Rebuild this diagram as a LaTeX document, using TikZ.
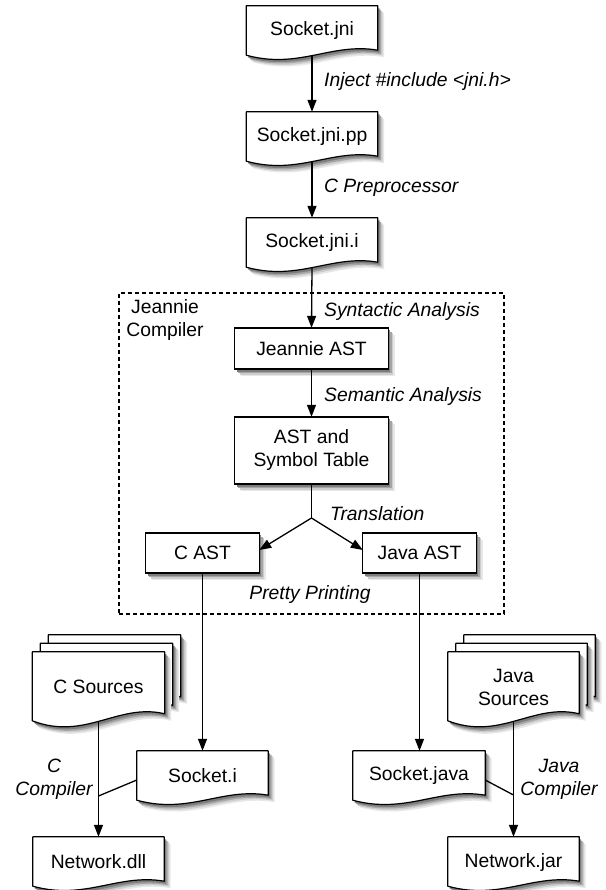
\documentclass[tikz,border=0pt]{standalone}
\usepackage{fontspec}
\setmainfont{Liberation Sans}
\usetikzlibrary{arrows.meta,calc}
\definecolor{shA}{RGB}{232,232,232}
\definecolor{shB}{RGB}{205,205,205}
\definecolor{shC}{RGB}{165,165,165}
\definecolor{shD}{RGB}{125,125,125}

% #1 node, #2 height, #3 #4 offset (picture units, y down)
\newcommand\docpath[4]{($(#1.north west)+(#3,#4)$) -- ($(#1.north east)+(#3,#4)$) -- ($(#1.south east)+(#3,{#4-0.12*#2})$) .. controls ($(#1.south east)!0.35!(#1.south west)+(#3,{#4-0.28*#2})$) and ($(#1.south west)!0.4!(#1.south east)+(#3,{#4+0.27*#2})$) .. ($(#1.south west)+(#3,{#4-0.02*#2})$) -- cycle}

\newcommand\docshape[4]{%
  \path[fill=shA] \docpath{#1}{#2}{#3+6.5}{#4+7};
  \path[fill=shB] \docpath{#1}{#2}{#3+5}{#4+5.5};
  \path[fill=shC] \docpath{#1}{#2}{#3+3.5}{#4+4};
  \path[fill=shD] \docpath{#1}{#2}{#3+2}{#4+2.5};
  \path[fill=white, draw=black, line width=1.2pt, line join=round] \docpath{#1}{#2}{#3}{#4};}

\newcommand\procshape[1]{%
  \path[fill=shA] ($(#1.north west)+(6.5,7)$) rectangle ($(#1.south east)+(6.5,7)$);
  \path[fill=shB] ($(#1.north west)+(5,5.5)$) rectangle ($(#1.south east)+(5,5.5)$);
  \path[fill=shC] ($(#1.north west)+(3.5,4)$) rectangle ($(#1.south east)+(3.5,4)$);
  \path[fill=shD] ($(#1.north west)+(2,2.5)$) rectangle ($(#1.south east)+(2,2.5)$);
  \path[fill=white, draw=black, line width=1pt] (#1.north west) rectangle (#1.south east);
  \draw[line width=2pt] (#1.north west) -- (#1.north east);
  \draw[line width=2pt] (#1.south west) -- (#1.south east);}

\begin{document}
\begin{tikzpicture}[x=1pt,y=-1pt,
  every node/.style={font=\fontsize{19.3}{23}\selectfont, inner sep=0pt},
  doc/.style={minimum width=131pt, minimum height=50pt},
  proc/.style={minimum width=153pt, minimum height=41pt},
  txt/.style={align=center},
  lbl/.style={font=\fontsize{19.3}{23}\selectfont\itshape, align=center},
  arr/.style={line width=1.3pt, -{Triangle[length=12pt,width=9pt]}},
  conn/.style={line width=1.3pt},
  dashbox/.style={draw=black, line width=1.6pt, dash pattern=on 4pt off 3pt, minimum width=385pt, minimum height=321pt},
]
\fill[white] (0,0) rectangle (605,890);
\useasboundingbox (0,0) rectangle (605,890);

% geometry of documents
\node[doc] (sj)   at (312,31)   {};
\node[doc] (sjpp) at (312,137)  {};
\node[doc] (sji)  at (312,243)  {};
\node[doc, minimum width=132pt, minimum height=70pt] (csrc) at (98.5,687) {};
\node[doc, minimum height=70pt] (jsrc) at (513.5,687) {};
\node[doc] (socki) at (202.5,776) {};
\node[doc, minimum width=132pt] (sockj) at (419,776) {};
\node[doc] (ndll) at (98.5,862) {};
\node[doc] (njar) at (513.5,862) {};

% geometry of process boxes
\node[proc] (jast) at (311.5,348.5) {};
\node[proc, minimum height=67pt] (ast) at (311.5,450.5) {};
\node[proc, minimum width=113pt, minimum height=40pt] (cast) at (202.5,553) {};
\node[proc, minimum width=113pt, minimum height=40pt] (javast) at (419.5,553) {};

% compiler box
\node[dashbox] (jbox) at (311.5,453.5) {};
\node[txt] (jlabel) at (165,320) {Jeannie\\Compiler};

% shapes
\docshape{sj}{50}{0}{0}
\docshape{sjpp}{50}{0}{0}
\docshape{sji}{50}{0}{0}
\docshape{csrc}{70}{16}{-17}
\docshape{csrc}{70}{8}{-8.5}
\docshape{csrc}{70}{0}{0}
\docshape{jsrc}{70}{16}{-17}
\docshape{jsrc}{70}{8}{-8.5}
\docshape{jsrc}{70}{0}{0}
\docshape{socki}{50}{0}{0}
\docshape{sockj}{50}{0}{0}
\docshape{ndll}{50}{0}{0}
\docshape{njar}{50}{0}{0}
\procshape{jast}
\procshape{ast}
\procshape{cast}
\procshape{javast}

% texts
\node[txt] (sj-t)     at (sj)     {Socket.jni};
\node[txt] (sjpp-t)   at (sjpp)   {Socket.jni.pp};
\node[txt] (sji-t)    at (sji)    {Socket.jni.i};
\node[txt] (csrc-t)   at (csrc)   {C Sources};
\node[txt] (jsrc-t)   at (jsrc)   {Java\\Sources};
\node[txt] (socki-t)  at (socki)  {Socket.i};
\node[txt] (sockj-t)  at (sockj)  {Socket.java};
\node[txt] (ndll-t)   at (ndll)   {Network.dll};
\node[txt] (njar-t)   at (njar)   {Network.jar};
\node[txt] (jast-t)   at (jast)   {Jeannie AST};
\node[txt] (ast-t)    at (ast)    {AST and\\Symbol Table};
\node[txt] (cast-t)   at (cast)   {C AST};
\node[txt] (javast-t) at (javast) {Java AST};

% labels
\node[lbl, anchor=west] (l1) at (324,82) {Inject \#include <jni.h>};
\node[lbl, anchor=west] (l2) at (324,188) {C Preprocessor};
\node[lbl, anchor=west] (l3) at (324,312) {Syntactic Analysis};
\node[lbl, anchor=west] (l4) at (324,397) {Semantic Analysis};
\node[lbl, anchor=west] (l5) at (330,514) {Translation};
\node[lbl] (l6) at (310,595) {Pretty Printing};
\node[lbl] (l7) at (54,779) {C\\Compiler};
\node[lbl] (l8) at (559,779) {Java\\Compiler};

% connectors
\coordinate (br) at (311.5,518);
\coordinate (jc) at (98.5,796);
\coordinate (jj) at (513.5,795);
\draw[arr] ([yshift=1pt]sj.south) -- (sjpp.north);
\draw[arr] ([yshift=1pt]sjpp.south) -- (sji.north);
\draw[arr] ([yshift=1pt]sji.south) -- (jast.north);
\draw[arr] (jast.south) -- (ast.north);
\draw[conn] (ast.south) -- (br);
\draw[arr] (br) -- ([yshift=3pt]cast.east);
\draw[arr] (br) -- ([yshift=3pt]javast.west);
\draw[arr] (cast.south) -- (socki.north);
\draw[arr] (javast.south) -- (javast.south |- sockj.north);
\draw[arr] ([yshift=1.5pt]csrc.south) -- (csrc.south |- ndll.north);
\draw[arr] ([yshift=1.5pt]jsrc.south) -- (jsrc.south |- njar.north);
\draw[conn] ([yshift=-4pt]socki.west) -- (jc);
\draw[conn] ([yshift=-4pt]sockj.east) -- (jj);
\end{tikzpicture}
\end{document}
